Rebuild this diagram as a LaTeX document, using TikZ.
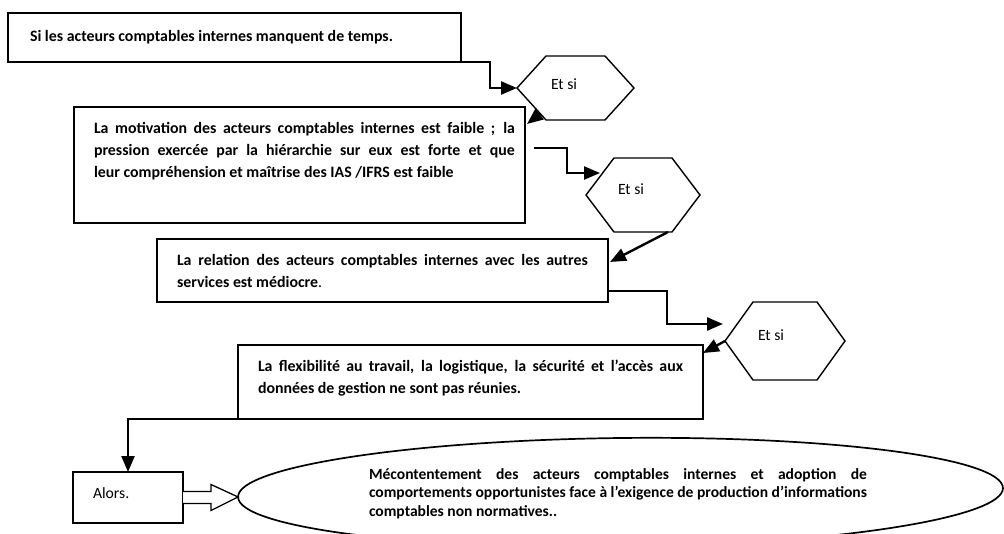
\documentclass[tikz,border=0pt]{standalone}
\usepackage{fontspec}
\setmainfont{Carlito}
\usetikzlibrary{arrows.meta,calc,shapes.geometric}

\newlength\reflen
\newcommand\bfs{12}
\newcommand\efs{12}
\newcommand\rfs{12}
\AtBeginDocument{%
  \settowidth\reflen{\fontsize{10pt}{12pt}\rmfamily\bfseries\selectfont Si les acteurs comptables internes manquent de temps.}%
  \pgfmathsetmacro\bfs{10*363/\reflen}%
  \settowidth\reflen{\fontsize{10pt}{12pt}\rmfamily\bfseries\selectfont comportements opportunistes face à l’exigence de production d’informations}%
  \pgfmathsetmacro\efs{10*498/\reflen}%
  \settowidth\reflen{\fontsize{10pt}{12pt}\rmfamily\mdseries\selectfont Et si}%
  \pgfmathsetmacro\rfs{10*26/\reflen}%
}
\newcommand\ns{\spaceskip0pt\xspaceskip0pt\relax}
\newcommand\bt{\fontsize{\bfs pt}{22pt}\rmfamily\bfseries\selectfont}
\newcommand\et{\fontsize{\efs pt}{18.5pt}\rmfamily\bfseries\selectfont}
\newcommand\rt{\fontsize{\rfs pt}{16pt}\rmfamily\mdseries\selectfont}
\newcommand\jl[2]{\makebox[#1pt][s]{\ns #2}}
\newcommand\drawhex[2]{\draw[hexline] (#1.west) -- ($(#1.north west)+(#2,0)$) -- ($(#1.north east)+(-#2,0)$) -- (#1.east) -- ($(#1.south east)+(-#2,0)$) -- ($(#1.south west)+(#2,0)$) -- cycle;}

\tikzset{
  boxnode/.style={draw, line width=1.8pt, rectangle, inner sep=0pt, outer sep=0pt, anchor=north west},
  hexnode/.style={rectangle, inner sep=0pt, outer sep=0pt, anchor=north west},
  hexline/.style={line width=1.4pt, line join=miter},
  conn/.style={line width=2.4pt, line join=miter, -{Triangle[length=16pt,width=13pt]}},
  btext/.style={inner sep=0pt, outer sep=0pt, anchor=base west, align=left, font=\bt},
  rtext/.style={inner sep=0pt, outer sep=0pt, font=\rt},
  blk/.style={draw, line width=1.3pt, fill=white, line join=miter},
}

\begin{document}
\begin{tikzpicture}[x=1pt,y=-1pt]
\path[fill=white] (0,0) rectangle (1004,533);
\useasboundingbox (0,0) rectangle (1004,533);
\clip (0,0) rectangle (1004,533);

% boxes
\node[boxnode, minimum width=453pt, minimum height=49pt] (box1) at (8,13) {};
\node[boxnode, minimum width=451pt, minimum height=116pt] (box2) at (74,107) {};
\node[boxnode, minimum width=451pt, minimum height=63pt] (box3) at (157,239) {};
\node[boxnode, minimum width=465pt, minimum height=74pt] (box4) at (238,345) {};
\node[boxnode, line width=1.3pt, minimum width=110pt, minimum height=51pt] (alors) at (73,472) {};

% hexagons
\node[hexnode, minimum width=117pt, minimum height=64pt] (h1) at (517,56) {};
\node[hexnode, minimum width=114pt, minimum height=74pt] (h2) at (586,158) {};
\node[hexnode, minimum width=120pt, minimum height=78pt] (h3) at (725,302) {};
\drawhex{h1}{29}
\drawhex{h2}{28}
\drawhex{h3}{28}

% ellipse
\node[ellipse, draw, line width=1.7pt, minimum width=765pt, minimum height=109pt, rotate=0.67, inner sep=0pt, outer sep=0pt] (ell) at (620.5,492.5) {};

% texts
\node[btext, text width=430pt] (t1) at (30,41) {\ns Si les acteurs comptables internes manquent de temps.};
\node[btext, text width=421pt] (t2) at (94,133) {\ns\jl{421}{La motivation des acteurs comptables internes est faible ; la}\\\jl{421}{pression exercée par la hiérarchie sur eux est forte et que}\\leur compréhension et maîtrise des IAS /IFRS est faible};
\node[btext, text width=411pt] (t3) at (177,265) {\ns\jl{411}{La relation des acteurs comptables internes avec les autres}\\services est médiocre{\mdseries.}};
\node[btext, text width=425pt] (t4) at (258,371) {\ns\jl{425}{La flexibilité au travail, la logistique, la sécurité et l’accès aux}\\données de gestion ne sont pas réunies.};
\node[btext, font=\et, text width=498pt] (t5) at (369,479) {\ns\jl{498}{Mécontentement des acteurs comptables internes et adoption de}\\comportements opportunistes face à l’exigence de production d’informations\\comptables non normatives..};
\node[rtext] (e1) at (564,84) {Et si};
\node[rtext] (e2) at (631,189) {Et si};
\node[rtext] (e3) at (771,335) {Et si};
\node[rtext, anchor=west] (a1) at (93,493) {Alors.};

% helper coordinates
\coordinate (h1bl) at ($(h1.south west)+(29,0)$);
\coordinate (c2s) at ($(h1.west)!0.8!(h1bl)$);
\coordinate (c2e) at ($(box2.north east)+(2,17)$);
\coordinate (c3s) at ($(box2.north east)+(9,41)$);
\coordinate (h2in) at ($(h2.west)+(14,-22)$);
\coordinate (c4s) at ($(h2.south east)+(-32,0)$);
\coordinate (c4e) at ($(box3.north east)+(2,23)$);
\coordinate (c5s) at ($(box3.south east)+(0,-11)$);
\coordinate (c5e) at ($(h3.west)+(-2,-17)$);
\coordinate (c6e) at ($(box4.north east)+(0,8)$);

% connectors
\draw[conn] (box1.south east) -- ++(29,0) |- (h1.west);
\draw[conn] (c2s) -- (c2e);
\draw[conn] (c3s) -- ++(33,0) |- (h2in);
\draw[conn] (c4s) -- (c4e);
\draw[conn] (c5s) -- ++(59,0) |- (c5e);
\draw[conn] (h3.west) -- (c6e);
\draw[conn] (box4.south west) -| (alors.north);

% block arrow
\draw[blk] ($(alors.east)+(0,-6)$) -- ++(28,0) -- ++(0,-7) -- (ell.west) -- ($(alors.east)+(28,13)$) -- ++(0,-7) -- ($(alors.east)+(0,6)$);
\end{tikzpicture}
\end{document}
